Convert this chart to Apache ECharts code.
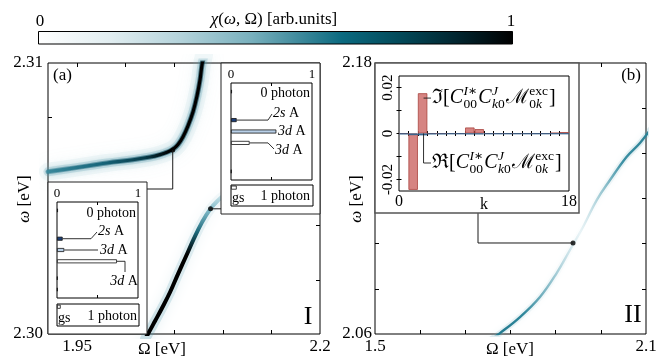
<!DOCTYPE html>
<html>
<head>
<meta charset="UTF-8">
<title>chi(omega, Omega)</title>
<script src="https://cdn.jsdelivr.net/npm/echarts@6.0.0/dist/echarts.min.js"></script>
<style>
    html, body { margin: 0; padding: 0; background: #fff; }
    #main { width: 660px; height: 360px; }
</style>
</head>
<body>
<div id="main"></div>
<script type="text/javascript">

    var FONT = '"Liberation Serif", "DejaVu Serif", serif';

    // ---- panel (a): the two branches, Omega [eV] -> omega [eV]
    var upperOmega = [1.9200, 1.9457, 1.9807, 2.0075, 2.0250, 2.0353, 2.0425, 2.0487, 2.0538, 2.0590,
                      2.0641, 2.0693, 2.0734, 2.0765, 2.0785, 2.0806];
    var upperW     = [2.30599, 2.30612, 2.30631, 2.30643, 2.30653, 2.30662, 2.30671, 2.30682, 2.30699, 2.30728,
                      2.30768, 2.30820, 2.30879, 2.30938, 2.30993, 2.31029];
    var lowerOmega = [2.0199, 2.0229, 2.0302, 2.0374, 2.0456, 2.0538, 2.0621, 2.0703, 2.0785, 2.0868, 2.0950, 2.1022];
    var lowerW     = [2.29982, 2.30000, 2.30048, 2.30096, 2.30154, 2.30221, 2.30287, 2.30353, 2.30412, 2.30460,
                      2.30493, 2.30515];
    var dotsA = [[2.0484, 2.30679], [2.0873, 2.30462]];

    // ---- panel (b)
    var curveOmega = [1.7546, 1.7768, 1.8210, 1.8653, 1.9023, 1.9317, 1.9605, 1.9908, 2.0203, 2.0573, 2.0867, 2.1089];
    var curveW     = [2.0573, 2.0604, 2.0675, 2.0764, 2.0870, 2.0972, 2.1074, 2.1193, 2.1282, 2.1385, 2.1446, 2.1503];
    var dotB = [1.9384, 2.1003];

    // ---- insets of (a): occupation of each state row
    var stateRows = ['0', '1', '2', '3', '4', '5', '6', '7', '8', '9', '10', '11', '12', '13', '14', '15', '16'];
    var stateKind = ['', 'x', '', '', '', '', '2s', '', '3dA', '', '3dB', '', '', 'x', '', 'x', ''];
    var occA1 = [null, 0.012, null, null, null, null, 0.07, null, 0.09, null, 0.74, null, null, 0.008, null, 0.008, null];
    var occA2 = [null, 0.012, null, null, null, null, 0.07, null, 0.56, null, 0.23, null, null, null, null, 0.006, null];
    var gsRows = ['gs', 'r1', 'r2', 'r3'];
    var gsA1 = [0.045, null, null, null];
    var gsA2 = [0.07, null, null, null];

    // ---- inset of (b)
    var kBins  = [0, 1, 2, 3, 4, 5, 6, 7, 8, 9, 10, 11, 12, 13, 14, 15, 16, 17];
    var imPart = [0, -0.0245, 0.0175, 0, 0, 0, 0, 0.0026, 0.0019, 0, 0, 0, 0, 0, 0, 0, 0.0003, 0.0006];
    var rePart = [-0.0003, -0.0007, -0.0008, -0.0003, -0.0003, -0.0002, -0.0002, -0.0003, -0.0003, -0.0002,
                  -0.0002, -0.0002, -0.0002, -0.0002, -0.0002, -0.0002, -0.0002, -0.0002];

    // ---- ticks / labels
    var ticksAx = [1.95, 2.0, 2.05, 2.1, 2.15], labelsAx = ['1.95', '2.2'];
    var ticksAy = [2.302, 2.304, 2.306, 2.308], labelsAy = ['2.30', '2.31'];
    var ticksBx = [1.6, 1.7, 1.8, 1.9, 2.0], labelsBx = ['1.5', '2.1'];
    var ticksBy = [2.08, 2.10, 2.12, 2.14, 2.16], labelsBy = ['2.06', '2.18'];
    var ticksOcc = [0.5], labelsOcc = [0, 1];
    var ticksK = [1, 2, 3, 4, 5, 6, 7, 8, 9, 10, 11, 12, 13, 14, 15, 16, 17], labelsK = [0, 18];
    var ticksIm = [-0.02, -0.01, 0, 0.01, 0.02], labelsIm = [-0.02, 0, 0.02];

    var kindColor = { '2s': '#1d3f78', '3dA': '#b9d0e8', '3dB': '#ffffff', 'x': '#1d3f78', '': '#1d3f78' };

    function zip(a, b) {
        var out = [];
        for (var i = 0; i < a.length; i++) out.push([a[i], b[i]]);
        return out;
    }

    var chart = echarts.init(document.getElementById('main'), null, { renderer: 'canvas' });

    var bBox = { left: 399, top: 76, width: 170, height: 115 };

    function gridBox(g, zl) {
        return {
            left: g[0], top: g[1], width: g[2], height: g[3], show: true,
            borderColor: '#000', borderWidth: 1, backgroundColor: 'rgba(0,0,0,0)',
            containLabel: false, outerBoundsMode: 'none', zlevel: zl, z: 2
        };
    }

    function valAxis(grid, min, max, pos, ticks, labels, opt) {
        opt = opt || {};
        return {
            type: 'value', gridIndex: grid, min: min, max: max, position: pos,
            zlevel: opt.zlevel || 0, z: opt.zlevel ? 4 : 1,
            axisLine: { show: false },
            splitLine: { show: false },
            axisTick: { show: true, inside: true, length: opt.tickLen || 4, customValues: ticks,
                        lineStyle: { color: '#000', width: 1 } },
            axisLabel: labels ? {
                show: true, customValues: labels, color: '#000', fontFamily: FONT, hideOverlap: false,
                fontSize: opt.fontSize || 17, margin: opt.margin || 4, rotate: opt.rotate || 0,
                formatter: opt.formatter
            } : { show: false }
        };
    }

    function catAxis(grid, rows) {
        return {
            type: 'category', gridIndex: grid, data: rows, inverse: true, zlevel: 1, z: 4,
            axisLine: { show: false }, axisTick: { show: false }, axisLabel: { show: false },
            splitLine: { show: false }
        };
    }

    function occData(vals) {
        return vals.map(function (v, i) {
            return { value: v, itemStyle: { color: kindColor[stateKind[i]] } };
        });
    }

    var occStyle = { borderColor: '#111', borderWidth: 0.8 };

    function branch(xi, yi, data, z, ls) {
        return { type: 'line', xAxisIndex: xi, yAxisIndex: yi, data: data, smooth: 0.4,
                 showSymbol: false, silent: true, z: z,
                 lineStyle: Object.assign({ cap: 'round', join: 'round' }, ls) };
    }

    var option = {
        animation: false,
        backgroundColor: '#fff',
        grid: [
            gridBox([48, 63, 272, 271], 0),
            gridBox([375, 63, 271, 271], 0),
            gridBox([57, 202, 81, 96], 1),
            gridBox([57, 304, 82, 22], 1),
            gridBox([231, 83, 81, 97], 1),
            gridBox([231, 185, 82, 21], 1),
            gridBox([bBox.left, bBox.top, bBox.width, bBox.height], 1)
        ],
        xAxis: [
            valAxis(0, 1.92, 2.2, 'bottom', ticksAx, null),
            valAxis(0, 1.92, 2.2, 'top', ticksAx, null),
            valAxis(1, 1.5, 2.1, 'bottom', ticksBx, null),
            valAxis(1, 1.5, 2.1, 'top', ticksBx, null),
            valAxis(2, 0, 1, 'top', ticksOcc, labelsOcc, { zlevel: 1, fontSize: 13, margin: 2, tickLen: 3 }),
            valAxis(2, 0, 1, 'bottom', ticksOcc, null, { zlevel: 1, tickLen: 3 }),
            valAxis(3, 0, 1, 'bottom', [], null, { zlevel: 1 }),
            valAxis(4, 0, 1, 'top', ticksOcc, labelsOcc, { zlevel: 1, fontSize: 13, margin: 2, tickLen: 3 }),
            valAxis(4, 0, 1, 'bottom', ticksOcc, null, { zlevel: 1, tickLen: 3 }),
            valAxis(5, 0, 1, 'bottom', [], null, { zlevel: 1 }),
            valAxis(6, 0, 18, 'bottom', ticksK, labelsK, { zlevel: 1, fontSize: 16, margin: 3, tickLen: 2.5 }),
            valAxis(6, 0, 18, 'top', ticksK, null, { zlevel: 1, tickLen: 2.5 })
        ],
        yAxis: [
            valAxis(0, 2.30, 2.31, 'left', ticksAy, null),
            valAxis(0, 2.30, 2.31, 'right', ticksAy, null),
            valAxis(1, 2.06, 2.18, 'left', ticksBy, null),
            valAxis(1, 2.06, 2.18, 'right', ticksBy, null),
            catAxis(2, stateRows),
            catAxis(3, gsRows),
            catAxis(4, stateRows),
            catAxis(5, gsRows),
            valAxis(6, -0.025, 0.025, 'left', ticksIm, labelsIm,
                { zlevel: 1, fontSize: 15, margin: 3, tickLen: 2.5, rotate: 90,
                  formatter: function (v) { return Math.abs(v) < 1e-9 ? '0' : v.toFixed(2); } }),
            valAxis(6, -0.025, 0.025, 'right', ticksIm, null, { zlevel: 1, tickLen: 2.5 })
        ],
        series: [
            // (a) upper branch: wide soft glow, halo, mid band, core
            branch(0, 0, zip(upperOmega, upperW), 2,
                { width: 18, color: 'rgba(150,198,210,0.10)', shadowBlur: 18, shadowColor: 'rgba(110,175,192,0.55)' }),
            branch(0, 0, zip(upperOmega, upperW), 2,
                { width: 9, color: 'rgba(90,158,176,0.22)', shadowBlur: 10, shadowColor: 'rgba(70,145,165,0.5)' }),
            branch(0, 0, zip(upperOmega, upperW), 2,
                { width: 5, shadowBlur: 4, shadowColor: 'rgba(40,120,140,0.5)',
                  color: new echarts.graphic.LinearGradient(0, 0, 1, 0, [
                      { offset: 0, color: 'rgba(45,125,145,0.5)' },
                      { offset: 0.6, color: 'rgba(15,85,105,0.55)' },
                      { offset: 1, color: 'rgba(0,45,58,0.6)' }]) }),
            branch(0, 0, zip(upperOmega, upperW), 3,
                { width: 3.2,
                  color: new echarts.graphic.LinearGradient(0, 0, 1, 0, [
                      { offset: 0, color: '#3a8a9d' },
                      { offset: 0.35, color: '#17657a' },
                      { offset: 0.62, color: '#063a48' },
                      { offset: 0.77, color: '#000' },
                      { offset: 1, color: '#000' }]) }),
            // (a) lower branch
            branch(0, 0, zip(lowerOmega, lowerW), 2,
                { width: 10, shadowBlur: 12, shadowColor: 'rgba(90,160,180,0.55)',
                  color: new echarts.graphic.LinearGradient(0, 0, 0, 1, [
                      { offset: 0, color: 'rgba(120,180,195,0.06)' },
                      { offset: 0.3, color: 'rgba(100,170,188,0.16)' },
                      { offset: 1, color: 'rgba(80,150,170,0.26)' }]) }),
            branch(0, 0, zip(lowerOmega, lowerW), 3,
                { width: 4,
                  color: new echarts.graphic.LinearGradient(0, 0, 0, 1, [
                      { offset: 0, color: 'rgba(140,195,208,0.3)' },
                      { offset: 0.12, color: 'rgba(90,165,183,0.75)' },
                      { offset: 0.27, color: '#1a6678' },
                      { offset: 0.42, color: '#000' },
                      { offset: 1, color: '#000' }]) }),
            { type: 'scatter', xAxisIndex: 0, yAxisIndex: 0, data: dotsA, symbolSize: 5, silent: true, z: 5,
              itemStyle: { color: '#000' } },
            // (b) curve
            branch(2, 2, zip(curveOmega, curveW), 2,
                { width: 6, shadowBlur: 6, shadowColor: 'rgba(110,175,190,0.4)',
                  color: new echarts.graphic.LinearGradient(0, 0, 1, 0, [
                      { offset: 0, color: 'rgba(90,160,178,0.18)' },
                      { offset: 0.4, color: 'rgba(130,190,205,0.08)' },
                      { offset: 0.6, color: 'rgba(170,210,220,0.0)' },
                      { offset: 0.8, color: 'rgba(110,175,190,0.14)' },
                      { offset: 1, color: 'rgba(90,160,178,0.2)' }]) }),
            branch(2, 2, zip(curveOmega, curveW), 3,
                { width: 2.4,
                  color: new echarts.graphic.LinearGradient(0, 0, 1, 0, [
                      { offset: 0, color: '#1f7489' },
                      { offset: 0.22, color: '#2f879b' },
                      { offset: 0.4, color: 'rgba(95,165,182,0.6)' },
                      { offset: 0.56, color: 'rgba(175,212,222,0.25)' },
                      { offset: 0.68, color: 'rgba(110,175,190,0.6)' },
                      { offset: 0.82, color: '#3b8fa3' },
                      { offset: 1, color: '#2a7f93' }]) }),
            { type: 'scatter', xAxisIndex: 2, yAxisIndex: 2, data: [dotB], symbolSize: 5, silent: true, z: 5,
              itemStyle: { color: '#000' } },
            // insets of (a)
            { type: 'bar', xAxisIndex: 4, yAxisIndex: 4, data: occData(occA1), barWidth: 4, silent: true,
              zlevel: 1, z: 6, itemStyle: occStyle },
            { type: 'bar', xAxisIndex: 6, yAxisIndex: 5, data: gsA1, barWidth: 4, silent: true,
              zlevel: 1, z: 6, itemStyle: { color: '#fff', borderColor: '#111', borderWidth: 0.8 } },
            { type: 'bar', xAxisIndex: 7, yAxisIndex: 6, data: occData(occA2), barWidth: 4, silent: true,
              zlevel: 1, z: 6, itemStyle: occStyle },
            { type: 'bar', xAxisIndex: 9, yAxisIndex: 7, data: gsA2, barWidth: 4, silent: true,
              zlevel: 1, z: 6, itemStyle: { color: '#fff', borderColor: '#111', borderWidth: 0.8 } },
            // inset of (b): Im and Re parts per k
            { type: 'bar', xAxisIndex: 10, yAxisIndex: 8, barWidth: bBox.width / 18, barGap: '-100%',
              data: kBins.map(function (k, i) { return [k + 0.5, imPart[i]]; }), silent: true, zlevel: 1, z: 6,
              itemStyle: { color: '#d68482', borderColor: '#a9443f', borderWidth: 0.8 } },
            { type: 'bar', xAxisIndex: 10, yAxisIndex: 8, barWidth: bBox.width / 18, barGap: '-100%',
              data: kBins.map(function (k, i) { return [k + 0.5, rePart[i]]; }), silent: true, zlevel: 1, z: 7,
              itemStyle: { color: '#3d6f9c', borderColor: '#2f5f8c', borderWidth: 0.8 } }
        ]
    };

    chart.setOption(option);

    // ---------- annotations ----------
    var measureCtx = document.createElement('canvas').getContext('2d');
    function textWidth(str, size, italic) {
        measureCtx.font = (italic ? 'italic ' : '') + size + 'px ' + FONT;
        return measureCtx.measureText(str).width;
    }

    var g = [];
    var richI = function (size) {
        return { i: { fontStyle: 'italic', fontFamily: FONT, fontSize: size, fill: '#000', color: '#000' } };
    };
    function txt(x, y, text, size, align, zl, rot) {
        g.push({
            type: 'text', x: x, y: y, rotation: rot || 0, zlevel: zl || 0, z: 20, silent: true,
            style: { text: text, fontFamily: FONT, fontSize: size, fill: '#000',
                     textAlign: align || 'left', textVerticalAlign: 'middle', rich: richI(size) }
        });
    }
    function line(points, zl, w) {
        g.push({
            type: 'polyline', zlevel: zl || 0, z: 19, silent: true,
            shape: { points: points },
            style: { stroke: '#1a1a1a', lineWidth: w || 1, fill: null }
        });
    }
    function box(x, y, w, h, stroke, lw) {
        g.push({
            type: 'rect', zlevel: 1, z: 1, silent: true,
            shape: { x: x, y: y, width: w, height: h },
            style: { fill: '#fff', stroke: stroke, lineWidth: lw }
        });
    }
    function px(xi, yi, v) {
        return chart.convertToPixel({ xAxisIndex: xi, yAxisIndex: yi }, v);
    }

    // main tick labels and axis names, placed through the axes' scales
    labelsAx.forEach(function (s) { var q = px(0, 0, [+s, 2.30]); txt(q[0], q[1] + 13, s, 17, 'center'); });
    labelsAy.forEach(function (s) { var q = px(0, 0, [1.92, +s]); txt(q[0] - 5, q[1], s, 17, 'right'); });
    labelsBx.forEach(function (s) { var q = px(2, 2, [+s, 2.06]); txt(q[0], q[1] + 13, s, 17, 'center'); });
    labelsBy.forEach(function (s) { var q = px(2, 2, [1.5, +s]); txt(q[0] - 3, q[1], s, 17, 'right'); });
    txt(162, 350, 'Ω [eV]', 17, 'center');
    txt(510, 350, 'Ω [eV]', 17, 'center');
    txt(25, 199, '{i|ω} [eV]', 17, 'center', 0, Math.PI / 2);
    txt(357, 199, '{i|ω} [eV]', 17, 'center', 0, Math.PI / 2);

    // colour bar
    g.push({
        type: 'rect', silent: true, z: 20,
        shape: { x: 38.5, y: 31.5, width: 474, height: 12.5 },
        style: {
            stroke: '#000', lineWidth: 1,
            fill: new echarts.graphic.LinearGradient(0, 0, 1, 0, [
                { offset: 0, color: '#ffffff' },
                { offset: 0.15, color: '#e2eef1' },
                { offset: 0.3, color: '#b4d3db' },
                { offset: 0.45, color: '#78b0bd' },
                { offset: 0.55, color: '#3f8a9c' },
                { offset: 0.64, color: '#0b6a80' },
                { offset: 0.76, color: '#034a5a' },
                { offset: 0.88, color: '#022630' },
                { offset: 1, color: '#000000' }])
        }
    });
    txt(40, 22, '0', 17, 'center');
    txt(511, 22, '1', 17, 'center');
    txt(274, 20, '{i|χ}({i|ω}, Ω) [arb.units]', 17, 'center');

    // panel tags
    txt(53, 76, '(a)', 17, 'left');
    txt(641, 76, '(b)', 17, 'right');
    txt(308, 317, 'I', 26, 'center');
    txt(633, 315, 'II', 26, 'center');

    // connectors from the marked points to the insets
    var d1 = px(0, 0, dotsA[0]), d2 = px(0, 0, dotsA[1]), dB = px(2, 2, dotB);
    line([d1, [d1[0], 189], [147, 189]], 0);
    line([d2, [221, d2[1]]], 0);
    line([dB, [478, dB[1]], [478, 213]], 0);

    // inset frames
    box(48, 182, 99, 152, '#222', 1);
    box(221, 63, 99, 151, '#222', 1);
    box(375, 63, 204, 150, '#555', 1.5);

    // inset (a) lower-left
    txt(136, 213, '0 photon', 14, 'right', 1);
    var p = px(4, 4, [occA1[6], 6]);
    line([p, [91, p[1]], [97, 232]], 1, 0.9);
    txt(98, 231, '{i|2s} A', 14, 'left', 1);
    p = px(4, 4, [occA1[8], 8]);
    line([p, [98, p[1]]], 1, 0.9);
    txt(100, 250, '{i|3d} A', 14, 'left', 1);
    p = px(4, 4, [occA1[10], 10]);
    line([p, [125, p[1]], [125, 272]], 1, 0.9);
    txt(124, 281, '{i|3d} A', 14, 'center', 1);
    txt(58, 318, 'gs', 14, 'left', 1);
    txt(137, 316, '1 photon', 14, 'right', 1);

    // inset (a) upper-right
    txt(310, 93, '0 photon', 14, 'right', 1);
    p = px(7, 6, [occA2[6], 6]);
    line([p, [268, p[1]], [272, 114]], 1, 0.9);
    txt(273, 113, '{i|2s} A', 14, 'left', 1);
    txt(278, 131, '{i|3d} A', 14, 'left', 1);
    p = px(7, 6, [occA2[10], 10]);
    line([p, [268, p[1]], [274, 149]], 1, 0.9);
    txt(275, 150, '{i|3d} A', 14, 'left', 1);
    txt(232, 198, 'gs', 14, 'left', 1);
    txt(310, 196, '1 photon', 14, 'right', 1);

    // inset (b): axis name and the Im / Re [C00^{I*} Ck0^J M0k^exc] labels
    var pk = px(10, 8, [9, -0.025]);
    txt(pk[0], pk[1] + 14, 'k', 16, 'center', 1);

    function runs(list, size, x, y) {
        var cx = x;
        list.forEach(function (r) {
            g.push({
                type: 'text', x: cx, y: y, zlevel: 1, z: 20, silent: true,
                style: { text: r[0], fontFamily: FONT, fontSize: size, fontStyle: r[1] ? 'italic' : 'normal',
                         fill: '#000', textAlign: 'left', textVerticalAlign: 'middle' }
            });
            cx += textWidth(r[0], size, r[1]);
        });
        return cx - x;
    }
    function mathLabel(head, x, y) {
        var tokens = [
            { t: [[head + '[', 0], ['C', 1]] }, { sup: [['I∗', 1]], sub: [['00', 0]] },
            { t: [['C', 1]] }, { sup: [['J', 1]], sub: [['k', 1], ['0', 0]] },
            { t: [['ℳ', 0]] }, { sup: [['exc', 0]], sub: [['0', 0], ['k', 1]] },
            { t: [[']', 0]] }
        ];
        var cx = x;
        tokens.forEach(function (tk) {
            if (tk.t) {
                cx += runs(tk.t, 20, cx, y);
            } else {
                var w1 = runs(tk.sup, 13.5, cx + 0.5, y - 7);
                var w2 = runs(tk.sub, 13.5, cx + 0.5, y + 6);
                cx += Math.max(w1, w2) + 1.5;
            }
        });
    }
    var pIm = px(10, 8, [2.6, imPart[2] * 0.88]);
    line([pIm, [431, pIm[1]]], 1, 0.9);
    mathLabel('ℑ', 432, pIm[1]);
    var pRe = px(10, 8, [2.6, 0]);
    line([pRe, [pRe[0], 163], [431, 163]], 1, 0.9);
    mathLabel('ℜ', 432, 163);

    chart.setOption({ graphic: g });

</script>
</body>
</html>
